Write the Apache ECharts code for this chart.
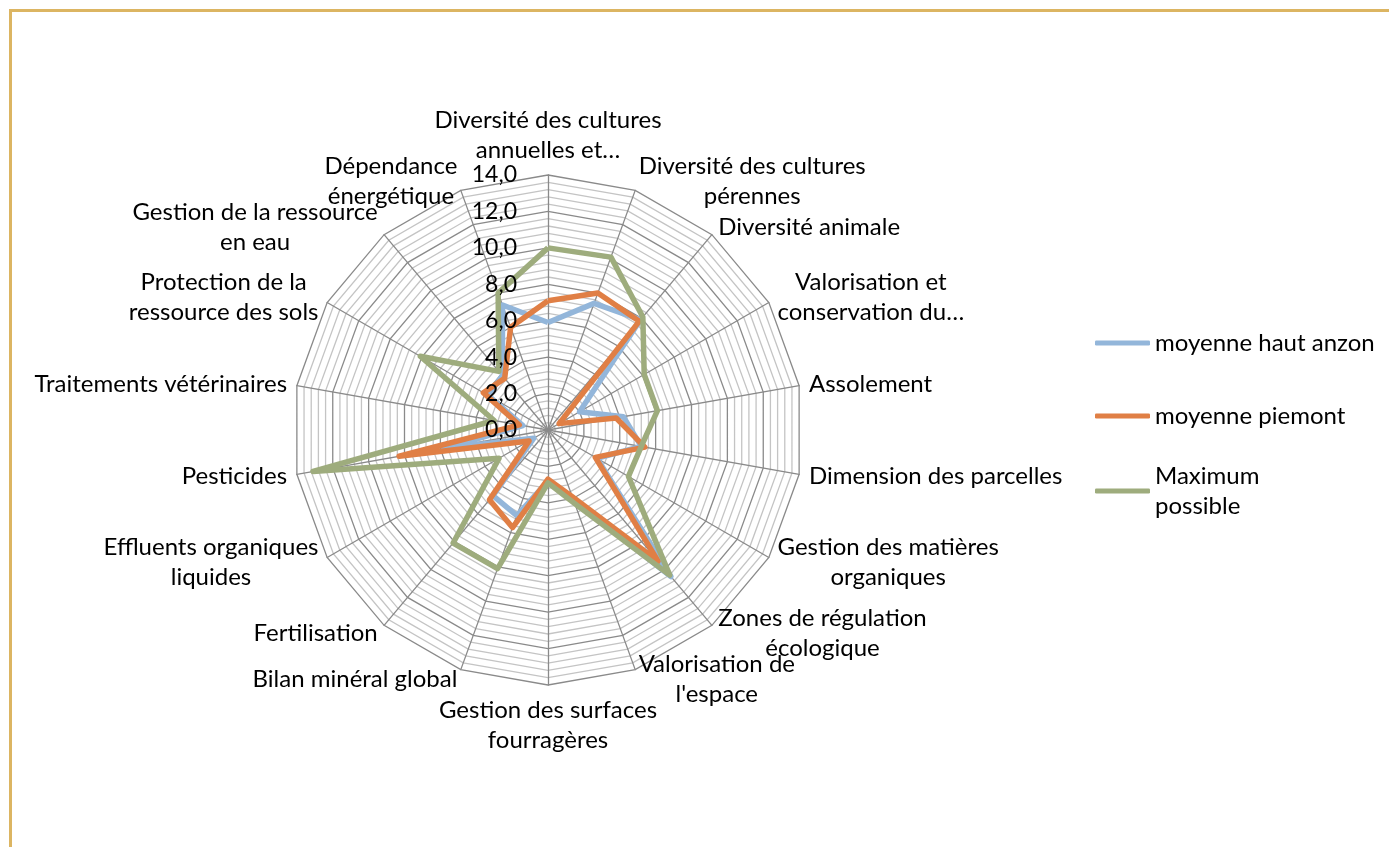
<!doctype html>
<html>
    <head>
        <meta charset="utf-8">
        <title>Radar IDEA</title>
        <style>
            html, body {
                margin: 0;
                padding: 0;
                background: #fff;
            }
            #main {
                width: 1389px;
                height: 847px;
            }
            .frame {
                position: absolute;
                left: 9px;
                top: 9px;
                width: 1380px;
                height: 838px;
                border-top: 3px solid #dcb562;
                border-left: 3px solid #dcb562;
                pointer-events: none;
            }
        </style>
    </head>
    <body>
        <div id="main"></div>
        <div class="frame"></div>
        <script src="https://cdn.jsdelivr.net/npm/echarts@6/dist/echarts.min.js"></script>
        <script>
            // indicateurs, dans le sens horaire depuis le haut
            var indicators = [
                'Diversité des cultures\nannuelles et…',
                'Diversité des cultures\npérennes',
                'Diversité animale',
                'Valorisation et\nconservation du…',
                'Assolement',
                'Dimension des parcelles',
                'Gestion des matières\norganiques',
                'Zones de régulation\nécologique',
                'Valorisation de\nl\'espace',
                'Gestion des surfaces\nfourragères',
                'Bilan minéral global',
                'Fertilisation',
                'Effluents organiques\nliquides',
                'Pesticides',
                'Traitements vétérinaires',
                'Protection de la\nressource des sols',
                'Gestion de la ressource\nen eau',
                'Dépendance\nénergétique'
            ];

            var hautAnzon = [5.9, 7.4, 7.9, 2.0, 4.2, 5.2, 3.1, 10.5, 4.1, 2.8, 5.0, 4.7, 0.9, 5.8, 1.4, 3.8, 3.9, 7.3];
            var piemont   = [7.1, 8.0, 7.8, 0.7, 3.8, 5.4, 3.0, 9.4, 3.9, 2.7, 5.7, 5.0, 1.2, 8.3, 1.6, 4.1, 3.7, 6.0];
            var maximum   = [10.0, 10.1, 8.1, 6.1, 6.1, 5.2, 5.1, 10.4, 4.3, 2.9, 8.1, 8.1, 3.1, 13.1, 3.0, 8.1, 4.2, 8.0];

            var seriesNames = ['moyenne haut anzon', 'moyenne piemont', 'Maximum possible'];
            var colors = ['#93b6da', '#e07f45', '#9eac7d'];

            var axisMax = 14;
            var tickStep = 2;

            var font = 'Lato, "Liberation Sans", sans-serif';

            // echarts tourne dans le sens anti-horaire : on garde le premier
            // indicateur en haut et on inverse les autres
            function clockwise(arr) {
                return [arr[0]].concat(arr.slice(1).reverse());
            }

            var chart = echarts.init(document.getElementById('main'));

            function legendFor(i, top, extra) {
                return Object.assign({
                    orient: 'vertical',
                    left: 1095,
                    top: top,
                    padding: 0,
                    itemWidth: 55,
                    itemHeight: 5,
                    icon: 'roundRect',
                    data: [seriesNames[i]],
                    textStyle: {
                        fontFamily: font,
                        fontSize: 24,
                        lineHeight: 30,
                        color: '#000'
                    }
                }, extra || {});
            }

            chart.setOption({
                backgroundColor: '#fff',
                color: colors,
                animation: false,
                legend: [
                    legendFor(0, 328),
                    legendFor(1, 401),
                    legendFor(2, 446, {
                        formatter: function (n) { return n.replace(' ', '\n'); },
                        textStyle: {
                            fontFamily: font,
                            fontSize: 24,
                            lineHeight: 30,
                            color: '#000',
                            padding: [30, 0, 0, 0]
                        }
                    })
                ],
                radar: {
                    center: [548, 430],
                    radius: 255,
                    startAngle: 90,
                    shape: 'polygon',
                    splitNumber: 35,
                    indicator: clockwise(indicators).map(function (n) {
                        return { name: n, min: 0, max: axisMax };
                    }),
                    axisName: {
                        color: '#000',
                        fontFamily: font,
                        fontSize: 24,
                        lineHeight: 30,
                        formatter: function (n) {
                            return n.split('\n').map(function (s) {
                                return '{n|' + s + '}';
                            }).join('\n');
                        },
                        rich: {
                            n: {
                                align: 'center',
                                fontFamily: font,
                                fontSize: 24,
                                lineHeight: 30,
                                color: '#000'
                            }
                        }
                    },
                    nameGap: 10,
                    axisLine: {
                        lineStyle: { color: '#8a8a8a', width: 1.3 }
                    },
                    splitLine: {
                        lineStyle: {
                            color: ['#8a8a8a', '#c4c4c4', '#c4c4c4', '#c4c4c4', '#c4c4c4'],
                            width: 1.3
                        }
                    },
                    splitArea: { show: false },
                    axisLabel: { show: false }
                },
                // echelle de valeurs a gauche de l'axe du haut
                grid: {
                    left: 525,
                    top: 175,
                    height: 255,
                    width: 10
                },
                xAxis: {
                    type: 'value',
                    show: false,
                    min: 0,
                    max: 1
                },
                yAxis: {
                    type: 'value',
                    z: 10,
                    min: 0,
                    max: axisMax,
                    interval: tickStep,
                    axisLine: { show: false },
                    axisTick: { show: false },
                    splitLine: { show: false },
                    axisLabel: {
                        margin: 8,
                        fontFamily: font,
                        fontSize: 23,
                        color: '#000',
                        formatter: function (v) {
                            return v.toFixed(1).replace('.', ',');
                        }
                    }
                },
                series: [{
                    type: 'radar',
                    symbol: 'none',
                    data: [
                        { name: seriesNames[0], value: clockwise(hautAnzon), lineStyle: { width: 5.5, color: colors[0] } },
                        { name: seriesNames[1], value: clockwise(piemont), lineStyle: { width: 5.5, color: colors[1] } },
                        { name: seriesNames[2], value: clockwise(maximum), lineStyle: { width: 5.5, color: colors[2] } }
                    ]
                }]
            });

            window.addEventListener('resize', function () {
                chart.resize();
            });
        </script>
    </body>
</html>
